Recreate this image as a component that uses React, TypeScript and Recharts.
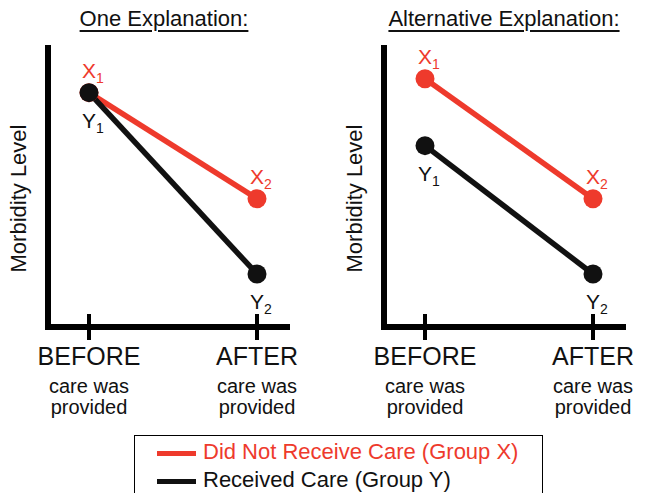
import React from 'react';
import { LineChart, Line, XAxis, YAxis, LabelList } from 'recharts';

// values (morbidity level on a 0-10 scale)
const CATEGORIES = ['BEFORE', 'AFTER'];
const NOTE_LINES = ['care was', 'provided'];
const PANEL_TITLES = ['One Explanation:', 'Alternative Explanation:'];
const ONE_GROUP_X = [8.4, 4.6];
const ONE_GROUP_Y = [8.4, 1.9];
const ALT_GROUP_X = [8.9, 4.6];
const ALT_GROUP_Y = [6.5, 1.9];
const SERIES_NAMES = ['Did Not Receive Care (Group X)', 'Received Care (Group Y)'];
const SERIES_LETTERS = ['X', 'Y'];

const RED = '#ee3a2c';
const BLACK = '#111';
const FONT = '"Liberation Sans", Arial, Helvetica, sans-serif';

const buildRows = (xs: number[], ys: number[]) =>
    CATEGORIES.map((stage, i) => ({ stage, x: xs[i], y: ys[i] }));

const CategoryTick = (props: any) => {
    const { x, y, payload } = props;
    return (
        <g>
            <line x1={x} x2={x} y1={y - 13} y2={y + 13} stroke="#000" strokeWidth={4} />
            <text x={x} y={y + 38} textAnchor="middle" fontSize={25} fill={BLACK}>
                {payload.value}
            </text>
            {NOTE_LINES.map((line, i) => (
                <text key={line} x={x} y={y + 66 + i * 21} textAnchor="middle" fontSize={20} fill={BLACK}>
                    {line}
                </text>
            ))}
        </g>
    );
};

const YTitle = (props: any) => {
    const vb = props.viewBox || {};
    const cx = (vb.x ?? 0) + 18;
    const cy = (vb.y ?? 48) + (vb.height ?? 279) / 2 + 11;
    return (
        <text
            x={cx}
            y={cy}
            transform={`rotate(-90 ${cx} ${cy})`}
            textAnchor="middle"
            dominantBaseline="central"
            fontSize={22}
            fill={BLACK}
        >
            Morbidity Level
        </text>
    );
};

// point tag like X₁ / Y₂ : above the dot for group X, below for group Y
const makeTag = (letter: string, color: string, dy: number) => (props: any) => {
    const px = props.x ?? props.viewBox?.x;
    const py = props.y ?? props.viewBox?.y;
    return (
        <text x={px - 7} y={py + dy} fill={color} fontSize={21}>
            {letter}
            <tspan fontSize={14} dy={5}>{props.index + 1}</tspan>
        </text>
    );
};

const Panel = ({ xs, ys }: { xs: number[]; ys: number[] }) => {
    const rows = buildRows(xs, ys);
    return (
        <LineChart width={300} height={430} data={rows} margin={{ top: 48, right: 13, bottom: 0, left: 0 }}>
            <XAxis
                dataKey="stage"
                height={103}
                padding={{ left: 41, right: 30 }}
                axisLine={{ stroke: '#000', strokeWidth: 6, strokeLinecap: 'square' }}
                tickLine={false}
                tickSize={0}
                tickMargin={0}
                interval={0}
                tick={<CategoryTick />}
            />
            <YAxis
                domain={[0, 10]}
                width={48}
                tick={false}
                tickLine={false}
                axisLine={{ stroke: '#000', strokeWidth: 6, strokeLinecap: 'square' }}
                label={YTitle}
            />
            <Line
                dataKey="x"
                stroke={RED}
                strokeWidth={5.5}
                dot={{ r: 9.5, fill: RED, stroke: RED, strokeWidth: 0 }}
                activeDot={false}
                isAnimationActive={false}
            >
                <LabelList dataKey="x" content={makeTag(SERIES_LETTERS[0], RED, -15)} />
            </Line>
            <Line
                dataKey="y"
                stroke={BLACK}
                strokeWidth={5.5}
                dot={{ r: 9.5, fill: BLACK, stroke: BLACK, strokeWidth: 0 }}
                activeDot={false}
                isAnimationActive={false}
            >
                <LabelList dataKey="y" content={makeTag(SERIES_LETTERS[1], BLACK, 35)} />
            </Line>
        </LineChart>
    );
};

const titleStyle = (center: number): React.CSSProperties => ({
    position: 'absolute',
    left: center - 150,
    top: 8,
    width: 300,
    textAlign: 'center',
    fontSize: 22,
    lineHeight: '22px',
    color: BLACK,
    textDecoration: 'underline',
    textUnderlineOffset: '4px',
    textDecorationThickness: '2px',
});

export default function App() {
    const colors = [RED, BLACK];
    return (
        <div
            style={{
                position: 'absolute',
                left: 0,
                top: 0,
                width: 651,
                height: 493,
                overflow: 'hidden',
                background: '#fff',
                fontFamily: FONT,
            }}
        >
            <div style={titleStyle(164)}>{PANEL_TITLES[0]}</div>
            <div style={titleStyle(504)}>{PANEL_TITLES[1]}</div>
            <div style={{ position: 'absolute', left: 0, top: 0 }}>
                <Panel xs={ONE_GROUP_X} ys={ONE_GROUP_Y} />
            </div>
            <div style={{ position: 'absolute', left: 336, top: 0 }}>
                <Panel xs={ALT_GROUP_X} ys={ALT_GROUP_Y} />
            </div>
            <div
                style={{
                    position: 'absolute',
                    left: 134,
                    top: 435,
                    width: 409,
                    height: 80,
                    border: '1.5px solid #000',
                    boxSizing: 'border-box',
                }}
            />
            {SERIES_NAMES.map((name, i) => (
                <div
                    key={name}
                    style={{
                        position: 'absolute',
                        left: 157,
                        top: 438 + i * 28,
                        height: 28,
                        display: 'flex',
                        alignItems: 'center',
                        fontSize: 22,
                        lineHeight: '28px',
                        color: colors[i],
                        whiteSpace: 'nowrap',
                    }}
                >
                    <span
                        style={{
                            display: 'inline-block',
                            width: 39,
                            height: 5.5,
                            background: colors[i],
                            marginRight: 7,
                            position: 'relative',
                            top: 1.5,
                        }}
                    />
                    {name}
                </div>
            ))}
        </div>
    );
}
